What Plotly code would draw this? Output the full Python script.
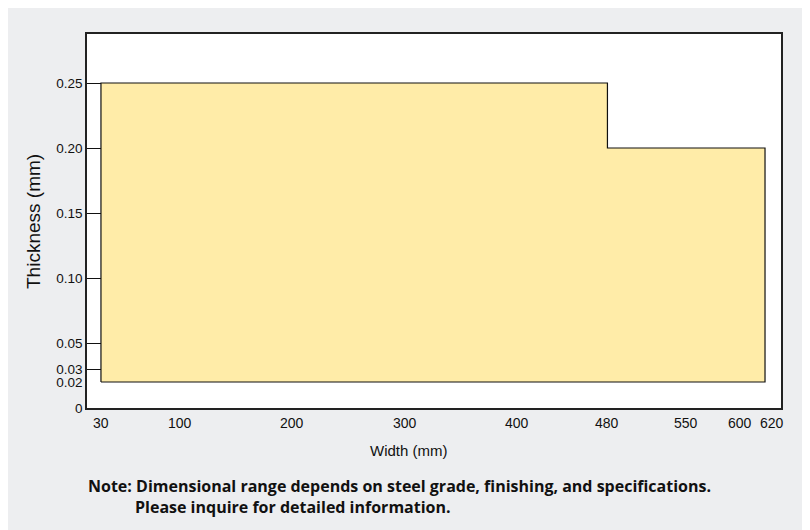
import plotly.graph_objects as go

# Data: outline of the available dimensional range
width_mm = [30, 30, 480, 480, 620, 620, 30]
thickness_mm = [0.02, 0.25, 0.25, 0.20, 0.20, 0.02, 0.02]

x_ticks = [30, 100, 200, 300, 400, 480, 550, 600, 620]
x_tick_labels = ["30", "100", "200", "300", "400", "480", "550", "600", "620"]
y_ticks = [0, 0.02, 0.03, 0.05, 0.10, 0.15, 0.20, 0.25]
y_tick_labels = ["0", "0.02", "0.03", "0.05", "0.10", "0.15", "0.20", "0.25"]
y_tick_marks = [0.03, 0.05, 0.10, 0.15, 0.20, 0.25]

note_lines = [
    "Note: Dimensional range depends on steel grade, finishing, and specifications.",
    "Please inquire for detailed information.",
]

sans = "Liberation Sans, Arial, sans-serif"

fig = go.Figure()
fig.add_trace(go.Scatter(
    x=width_mm, y=thickness_mm, mode="lines", fill="toself",
    fillcolor="#FFECA8", line=dict(color="#111111", width=1.2),
    hoverinfo="skip", showlegend=False,
))
# invisible trace on second y axis to carry tick marks
fig.add_trace(go.Scatter(x=[30], y=[0], yaxis="y2", mode="markers",
                         marker=dict(opacity=0), showlegend=False, hoverinfo="skip"))

xr = [17.6, 634.2]
yr = [0, 0.2877]

fig.update_layout(
    width=810, height=530,
    margin=dict(l=79, r=37, t=26, b=130),
    paper_bgcolor="#EDEEF0", plot_bgcolor="#FFFFFF",
    xaxis=dict(range=xr, tickvals=x_ticks, showticklabels=False,
               showgrid=False, zeroline=False, ticks="",
               showline=True, mirror=True, linecolor="#222222", linewidth=1.5),
    yaxis=dict(range=yr, tickvals=y_ticks, ticktext=y_tick_labels,
               showgrid=False, zeroline=False, ticks="",
               showline=True, mirror=True, linecolor="#222222", linewidth=1.5,
               tickfont=dict(family=sans, size=13.5, color="#111111")),
    yaxis2=dict(range=yr, overlaying="y", side="left", tickvals=y_tick_marks,
                showticklabels=False, ticks="inside", ticklen=14,
                tickcolor="#111111", tickwidth=1.2, showgrid=False,
                zeroline=False, showline=False),
)

# x tick labels (small nudges where labels crowd at the right end)
label_shift = {"600": -3, "620": 7}
for v, lab in zip(x_ticks, x_tick_labels):
    fig.add_annotation(text=lab, x=v, xref="x", yref="paper",
                       y=(408 - 423)/374, showarrow=False,
                       xanchor="center", yanchor="middle",
                       xshift=label_shift.get(lab, 0),
                       font=dict(family=sans, size=14, color="#111111"))

fig.add_annotation(text="Width (mm)", xref="paper", yref="paper",
                   x=(409 - 87)/694, y=(408 - 450)/374, showarrow=False,
                   xanchor="center", yanchor="middle",
                   font=dict(family=sans, size=15, color="#111111"))
fig.add_annotation(text="Thickness (mm)", xref="paper", yref="paper",
                   x=(33 - 87)/694, y=(408 - 222)/374, showarrow=False,
                   textangle=-90, xanchor="center", yanchor="middle",
                   font=dict(family=sans, size=19, color="#111111"))
fig.add_annotation(text="<b>" + note_lines[0] + "</b>", xref="paper", yref="paper",
                   x=(86 - 87)/694, y=(408 - 486)/374, showarrow=False,
                   xanchor="left", yanchor="middle",
                   font=dict(family="Open Sans, sans-serif", size=16, color="#111111"))
fig.add_annotation(text="<b>" + note_lines[1] + "</b>", xref="paper", yref="paper",
                   x=(133 - 87)/694, y=(408 - 507)/374, showarrow=False,
                   xanchor="left", yanchor="middle",
                   font=dict(family="Open Sans, sans-serif", size=16, color="#111111"))

fig.write_html("out.html")
